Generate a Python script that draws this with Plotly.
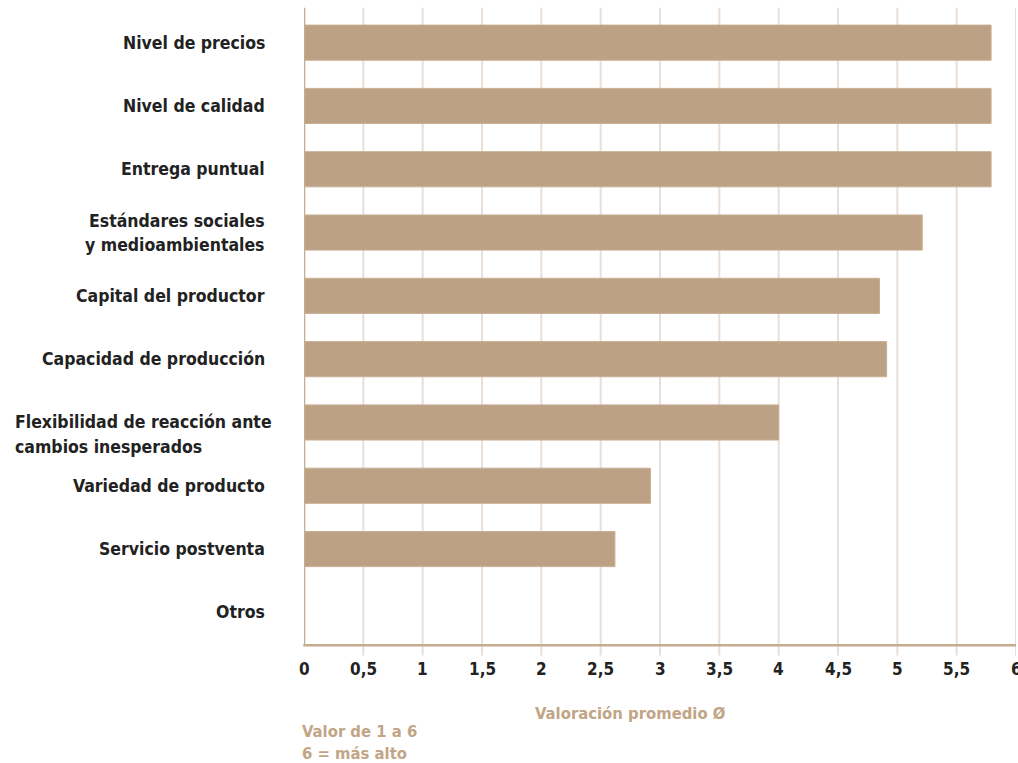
import plotly.graph_objects as go

# Survey: average rating of supplier criteria (scale 1-6)
categories = [
    "Nivel de precios",
    "Nivel de calidad",
    "Entrega puntual",
    "Estándares sociales<br>y medioambientales",
    "Capital del productor",
    "Capacidad de producción",
    "Flexibilidad de reacción ante<br>cambios inesperados",
    "Variedad de producto",
    "Servicio postventa",
    "Otros",
]
values = [5.79, 5.79, 5.79, 5.21, 4.85, 4.91, 4.0, 2.92, 2.62, 0.0]

tick_vals = [0, 0.5, 1, 1.5, 2, 2.5, 3, 3.5, 4, 4.5, 5, 5.5, 6]
tick_text = ["0", "0,5", "1", "1,5", "2", "2,5", "3", "3,5", "4", "4,5", "5", "5,5", "6"]

axis_title = "Valoración promedio Ø"
scale_note = "Valor de 1 a 6<br>6 = más alto"

BAR = "#BDA184"
AXIS = "#C5AB90"
GRID = "#E9DFD6"
TEXT = "#222222"
NOTE = "#C2A586"
FONT = "DejaVu Sans Condensed, Liberation Sans Narrow, Roboto, sans-serif"

fig = go.Figure(
    go.Bar(
        x=values,
        y=list(range(len(categories))),
        orientation="h",
        marker=dict(color=BAR, line=dict(color="#C9AF95", width=1)),
        width=0.555,
        hoverinfo="skip",
    )
)

shapes = []
# vertical gridlines, running slightly past the bottom axis like ticks
for v in tick_vals[1:]:
    shapes.append(dict(type="line", xref="x", yref="paper", x0=v, x1=v,
                       y0=-0.018, y1=1.005, line=dict(color=GRID, width=2),
                       layer="below"))
# left and bottom axis lines
shapes.append(dict(type="line", xref="x", yref="paper", x0=0, x1=0,
                   y0=-0.002, y1=1.005, line=dict(color=AXIS, width=2.5)))
shapes.append(dict(type="line", xref="paper", yref="paper", x0=-0.001, x1=1.0,
                   y0=-0.002, y1=-0.002, line=dict(color=AXIS, width=2.5)))

annotations = []
# category labels: the long wrapped one is left-aligned, first line on the bar
for i, cat in enumerate(categories):
    lines = cat.split("<br>")
    left = cat.startswith("Flexibilidad")
    n = len(lines)
    for j, line in enumerate(lines):
        if left:
            dy = -j * 25
        else:
            dy = ((n - 1) / 2 - j) * 24
        annotations.append(dict(
            text=line, xref="paper", yref="y", x=0, y=i,
            xanchor="left" if left else "right", yanchor="middle",
            xshift=-291 if left else -37, yshift=dy, showarrow=False,
            font=dict(family=FONT, size=17.5, color=TEXT, weight="bold"),
        ))

# x tick labels (the last one sits on the page edge)
for v, t in zip(tick_vals, tick_text):
    annotations.append(dict(
        text=t, xref="x", yref="paper", x=v, y=0, yshift=-25,
        xanchor="center", yanchor="middle", showarrow=False,
        font=dict(family=FONT, size=17, color=TEXT, weight="bold"),
    ))

annotations.append(dict(
    text=axis_title, xref="paper", yref="paper",
    x=(630 - 304) / 712, y=0, yshift=-69, xanchor="center", yanchor="middle",
    showarrow=False, font=dict(family=FONT, size=16.5, color=NOTE, weight="bold"),
))
for k, line in enumerate(scale_note.split("<br>")):
    annotations.append(dict(
        text=line, xref="paper", yref="paper",
        x=0, xshift=-4, y=0, yshift=-87 - 22 * k, xanchor="left", yanchor="middle",
        showarrow=False, font=dict(family=FONT, size=16.5, color=NOTE, weight="bold"),
    ))

fig.update_layout(
    width=1018, height=763,
    margin=dict(l=304, r=2, t=11, b=119),
    paper_bgcolor="white", plot_bgcolor="white",
    showlegend=False,
    shapes=shapes,
    annotations=annotations,
    xaxis=dict(range=[0, 6], showticklabels=False,
               showgrid=False, zeroline=False, showline=False, ticks=""),
    yaxis=dict(range=[len(categories) - 0.5, -0.5], showticklabels=False,
               showgrid=False, zeroline=False, showline=False, ticks=""),
)

fig.write_html("out.html")
